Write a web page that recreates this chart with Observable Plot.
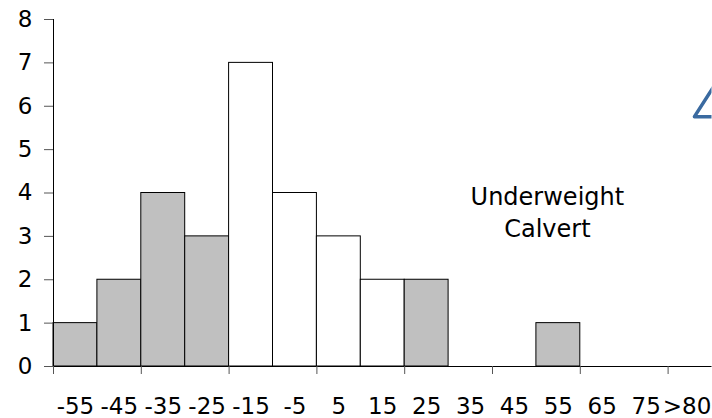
<!DOCTYPE html>
<html>
<head>
<meta charset="utf-8">
<script src="https://cdn.jsdelivr.net/npm/d3@7"></script>
<script src="https://cdn.jsdelivr.net/npm/@observablehq/plot@0.6"></script>
<style>
  html, body { margin: 0; padding: 0; background: #fff; }
</style>
</head>
<body>
<div id="chart"></div>
<script>
const categories = ["-55","-45","-35","-25","-15","-5","5","15","25","35","45","55","65","75",">80"];
const counts = [1,2,4,3,7,4,3,2,2,0,0,1,0,0,0];
const groups = ["under","under","under","under","normal","normal","normal","normal","under","none","none","under","none","none","none"];
const yTicks = [0,1,2,3,4,5,6,7,8];
const xTickPositions = [0,2,4,6,8,10,12,14];
const annotation = "Underweight\nCalvert";
// partial (clipped) triangle shape at top right, in data units
const triX = [15.45, 14.6, 15.45];
const triY = [5.76, 5.76, 7.1];

const table = categories.map((label, i) => ({label, i, count: counts[i], group: groups[i]}));
const bars = table.filter(d => d.count > 0);
const tri = triX.map((x, k) => ({x, y: triY[k]}));
const lastIndex = categories.length - 1;

const chart = Plot.plot({
  width: 712,
  height: 418,
  marginLeft: 53,
  marginRight: 0.5,
  marginTop: 19,
  marginBottom: 52,
  style: {fontFamily: "DejaVu Sans", fontSize: "23px", color: "#000", background: "#fff"},
  x: {type: "linear", domain: [0, 15], axis: null},
  y: {domain: [0, 8], axis: null},
  color: {domain: ["under", "normal"], range: ["#c0c0c0", "#ffffff"]},
  marks: [
    Plot.rectY(bars, {x1: d => d.i, x2: d => d.i + 1, y: "count", fill: "group", stroke: "#000", strokeWidth: 1, inset: 0}),
    Plot.ruleY([0], {stroke: "#000", strokeWidth: 1}),
    Plot.ruleX([0], {y1: 0, y2: 8, stroke: "#000", strokeWidth: 1}),
    Plot.axisY({ticks: yTicks, tickSize: 9, tickPadding: 12, stroke: "#555", fontSize: 23, label: null}),
    Plot.axisX({ticks: xTickPositions, tickSize: 8, tickFormat: () => "", stroke: "#555", label: null}),
    Plot.text(table.filter(d => d.i !== lastIndex), {x: d => d.i + 0.5, y: 0, text: "label", lineAnchor: "top", dy: 31, fontSize: 23}),
    Plot.text(table.filter(d => d.i === lastIndex), {x: d => d.i + 0.5, y: 0, text: "label", lineAnchor: "top", dy: 31, dx: -3, fontSize: 23}),
    Plot.text([annotation], {x: 11.25, y: 3.6, text: d => d, fontSize: 24, lineHeight: 1.33, lineAnchor: "middle"}),
    Plot.line(tri, {x: "x", y: "y", stroke: "#3a6aa0", strokeWidth: 3.5, clip: true})
  ]
});
document.getElementById("chart").appendChild(chart);
</script>
</body>
</html>
